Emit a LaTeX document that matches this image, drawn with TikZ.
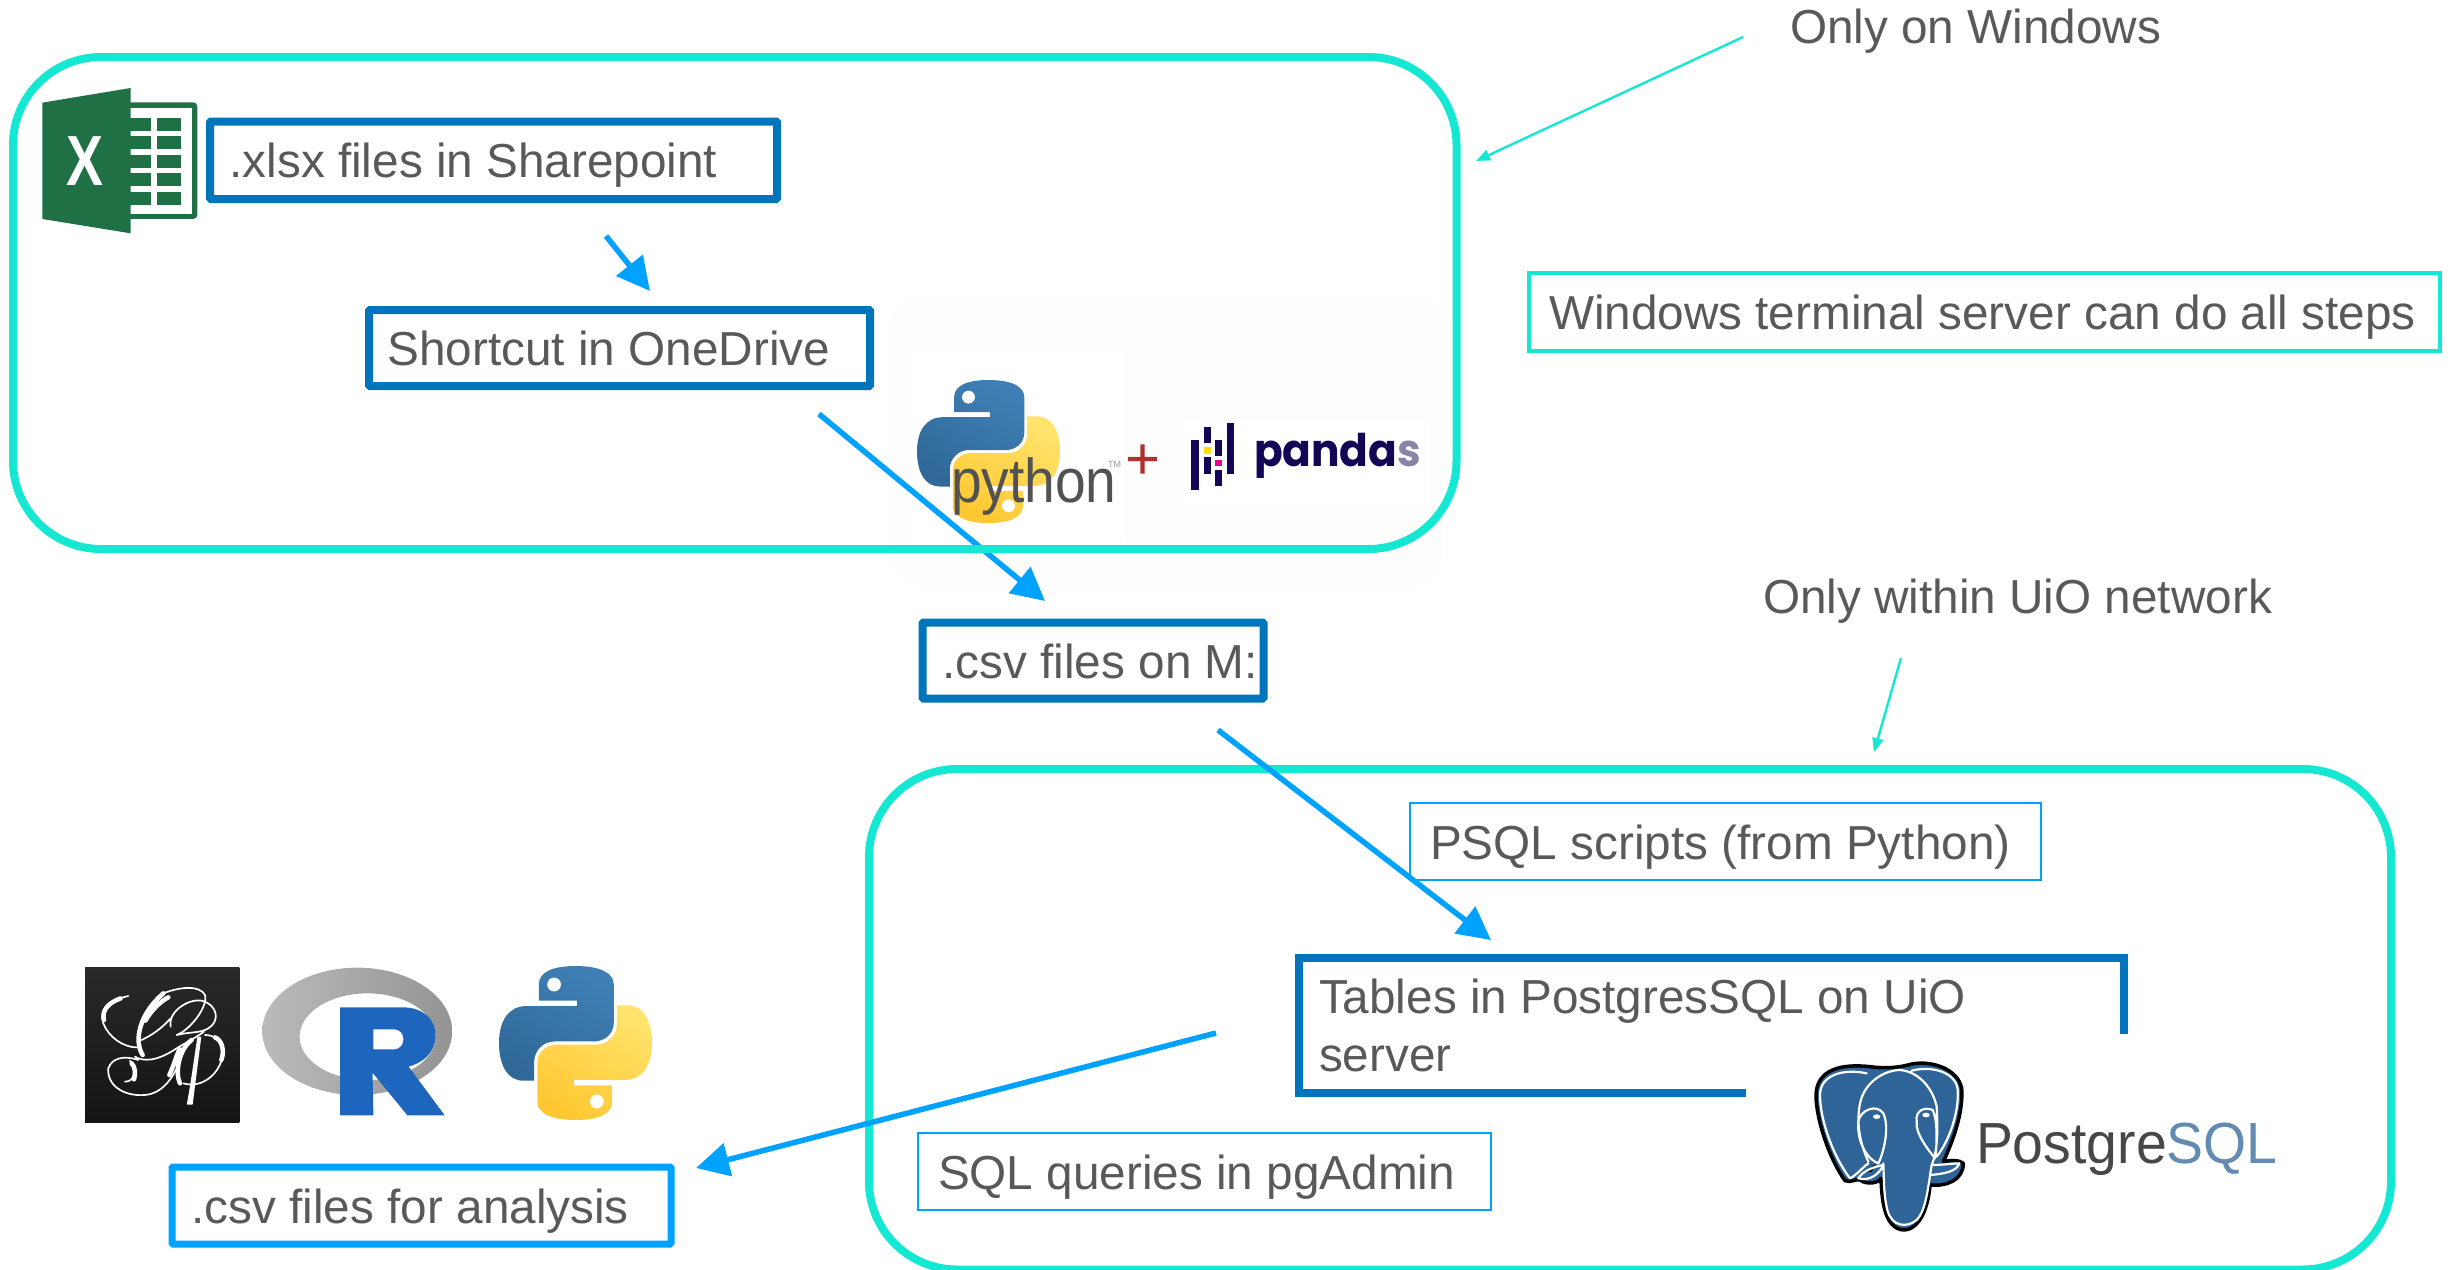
\documentclass[tikz,border=0pt]{standalone}
\usepackage{fontspec}
\usepackage{graphicx}
\setmainfont{Liberation Sans}
\newfontfamily\popfont{Poppins}
\usetikzlibrary{arrows.meta,calc}
\definecolor{tealc}{HTML}{15E8D2}
\definecolor{darkb}{HTML}{0075BC}
\definecolor{lightb}{HTML}{00A2FF}
\definecolor{txtc}{HTML}{595959}
\definecolor{xlgreen}{HTML}{1F7045}
\definecolor{pydark}{HTML}{130654}
\definecolor{pgblue}{HTML}{2F6499}
\definecolor{faint}{HTML}{FDFDFD}
% Python two-snake mark in a 100x100 box
\newcommand{\snakepath}{(26,22.5) -- (51,22.5) -- (51,26) -- (18,26) .. controls (6,26) and (0,36) .. (0,50) .. controls (0,65) and (6,74.5) .. (16,74.5) -- (23,74.5) -- (23,62) .. controls (23,55) and (29,49) .. (36,49) -- (62,49) .. controls (69,49) and (75,44) .. (75,37) -- (75,12) .. controls (75,5) and (67,0) .. (50,0) .. controls (35,0) and (26,4) .. (26,12) -- cycle}
\newcommand{\pymark}[4]{%
\begin{scope}[shift={(#1,#2)},x=#3pt,y=-#4pt]
\shade[top color=pyblueA,bottom color=pyblueB,shading angle=-30] \snakepath;
\fill[white] (36,12) circle[x radius=4.5,y radius=4.5];
\begin{scope}[shift={(100,100)},x=-#3pt,y=#4pt]
\shade[top color=pyyelA,bottom color=pyyelB,shading angle=-30] \snakepath;
\fill[white] (36,12) circle[x radius=4.5,y radius=4.5];
\end{scope}
\end{scope}}
\definecolor{pyblueA}{HTML}{3F7FB5}
\definecolor{pyblueB}{HTML}{306998}
\definecolor{pyyelA}{HTML}{FFE36B}
\definecolor{pyyelB}{HTML}{FFC832}
\tikzset{
 every node/.style={font=\fontsize{47.7}{58}\selectfont,text=txtc,outer sep=0pt},
 labelbox/.style n args={3}{minimum width=#1,minimum height=#2,inner sep=0pt,text width=#1,align=left,text height=45,text depth=10,execute at begin node={\spaceskip=0pt\xspaceskip=0pt\hspace*{#3pt}}},
 thickbox/.style={draw=darkb,line width=8,fill=white,rounded corners=1},
 lightbox/.style={draw=lightb,line width=7,fill=white,rounded corners=1},
 thinbox/.style={draw=lightb,line width=2.2},
 termbox/.style={draw=tealc,line width=4.5},
 region/.style={draw=tealc,line width=8,rounded corners=88},
 flow/.style={draw=lightb,line width=5.5,-{Triangle[length=33,width=33]}},
 note/.style={draw=tealc,line width=2.4,-{Triangle[length=14,width=11]}},
 plain/.style={anchor=base west,inner sep=0pt},
 thinstroke/.style={white,line width=1.7,line cap=round},
 thickstroke/.style={white,line width=4.5,line cap=round},
 pgline/.style={white,line width=2.2,line cap=round,line join=round},
}
\begin{document}
\begin{tikzpicture}[x=1pt,y=-1pt]
\useasboundingbox (0,0) rectangle (2451,1269);
% faint backing of the pasted logos
\fill[fill=faint,rounded corners=30] (891,297) rectangle (1442,586);
\fill[white] (910,350) rectangle (1125,543);
\fill[white] (1180,420) rectangle (1430,506);
% free ends of connectors
\coordinate (a1s) at (606,236); \coordinate (a1e) at (650,291);
\coordinate (a2s) at (819,414); \coordinate (a2e) at (1045,601);
\coordinate (a3s) at (1218,730); \coordinate (a3e) at (1491,940);
\coordinate (a4s) at (1216,1033); \coordinate (a4e) at (696,1168);
\coordinate (n1s) at (1743,37); \coordinate (n1e) at (1476,161);
\coordinate (n2s) at (1901,658); \coordinate (n2e) at (1874,752);
% python + pandas
\pymark{917}{380}{1.43}{1.43}
\node[plain,text=black!68] (pyword) at (951,502) {\fontsize{62}{62}\selectfont\scalebox{0.89}[1]{python}};
\node[plain,text=black!40] (pytm) at (1108,467) {\fontsize{9}{9}\selectfont TM};
\node[inner sep=0pt,text={rgb,255:red,176;green,48;blue,48}] (plus) at (1143,462) {\fontsize{60}{60}\selectfont +};
\begin{scope}[fill=pydark]
\fill (1191,439.5) rectangle (1199,490);
\fill (1203.5,427) rectangle (1210.5,443);
\fill (1203.5,457) rectangle (1210.5,473.5);
\fill (1215,440) rectangle (1222,456);
\fill (1215,470) rectangle (1222,486);
\fill (1226.5,423) rectangle (1234,473.5);
\end{scope}
\fill[yellow!80!orange] (1203.5,446.5) rectangle (1210.5,453.5);
\fill[magenta] (1215,459.5) rectangle (1222,466);
\node[plain,text=pydark] (pandas) at (1254,466) {\popfont\fontsize{45}{45}\selectfont\scalebox{0.94}[1]{\textbf{panda}\textcolor{pydark!50}{\textbf{s}}}};
% connectors under the frames
\draw[flow] (a2s) -- (a2e);
% frames
\draw[region] (13,57) rectangle (1456.5,549);
\draw[region] (869,769) rectangle (2391,1269.5);
\draw[flow] (a1s) -- (a1e);
\draw[flow] (a3s) -- (a3e);
\draw[flow] (a4s) -- (a4e);
\draw[note] (n1s) -- (n1e);
\draw[note] (n2s) -- (n2e);
% boxes
\node[thickbox,labelbox={567}{77.5}{19.5}] (xlsx) at (493.5,160.25) {.xlsx files in Sharepoint};
\node[thickbox,labelbox={501}{76}{18.5}] (onedrive) at (619.5,348) {Shortcut in OneDrive};
\node[thickbox,labelbox={341}{76}{20}] (csvm) at (1093,660.5) {.csv files on M:};
\node[lightbox,labelbox={499}{77}{19.5}] (csvan) at (421.5,1205.5) {.csv files for analysis};
\node[termbox,labelbox={911}{78}{20}] (term) at (1984.5,312) {Windows terminal server can do all steps};
\node[thinbox,labelbox={631}{77}{20}] (psql) at (1725.5,841.5) {PSQL scripts (from Python)};
\node[thinbox,labelbox={573}{77}{20}] (sqlq) at (1204.5,1171.5) {SQL queries in pgAdmin};
\node[minimum width=825,minimum height=135,inner xsep=20,inner ysep=0,text width=785,align=left] (tables) at (1711.5,1025.5) {\spaceskip=0pt\xspaceskip=0pt Tables in PostgresSQL on UiO\\server};
\draw[draw=darkb,line width=8] ($(tables.south west)+(447,0)$) -- (tables.south west) -- (tables.north west) -- (tables.north east) -- ($(tables.north east)+(0,75.5)$);
\node[plain] (onlywin) at (1790,43) {Only on Windows};
\node[plain] (onlyuio) at (1763,613) {Only within UiO network};
% Excel mark
\begin{scope}[shift={(35,80)},x=0.3333pt,y=-0.3333pt]
\fill[xlgreen,rounded corners=4] (200,67) rectangle (487,417);
\fill[white] (200,83) rectangle (472,403);
\foreach \ya/\yb in {113/152,168/207,224/263,280/319,335/375}{
 \fill[xlgreen] (280,\ya) rectangle (348,\yb);
 \fill[xlgreen] (365,\ya) rectangle (438,\yb);}
\fill[xlgreen] (22,68) -- (287,24) -- (287,460) -- (22,417) -- cycle;
\end{scope}
\node[inner sep=0pt,text=white] (xmark) at (85,161.5) {\fontsize{71}{71}\selectfont\bfseries\scalebox{0.78}[1]{X}};
% Phi mark
\begin{scope}[shift={(80,960)},x=0.3333pt,y=-0.3333pt]
\shade[top color=black!84,bottom color=black!92] (15,22) rectangle (478,487);
\draw[thinstroke]
 (145,108) .. controls (90,120) and (55,150) .. (70,190) .. controls (85,230) and (130,265) .. (178,262)
 (250,100) .. controls (300,80) and (360,75) .. (375,105) .. controls (385,140) and (330,210) .. (290,225)
 (272,200) .. controls (262,160) and (320,115) .. (365,122) .. controls (415,135) and (420,185) .. (385,205) .. controls (360,220) and (330,215) .. (290,225)
 (272,175) .. controls (240,210) and (215,225) .. (185,240)
 (165,290) .. controls (190,305) and (230,305) .. (290,265) .. controls (310,252) and (345,235) .. (372,215)
 (175,300) .. controls (130,285) and (95,295) .. (85,325) .. controls (80,375) and (130,410) .. (195,405) .. controls (250,400) and (280,350) .. (300,305)
 (135,365) .. controls (165,365) and (170,330) .. (150,302)
 (375,225) .. controls (420,225) and (438,265) .. (425,300) .. controls (410,350) and (360,385) .. (310,370);
\draw[thickstroke] (122,115) .. controls (80,130) and (65,155) .. (72,180);
\draw[thickstroke] (188,285) .. controls (160,240) and (180,160) .. (250,100);
\draw[thickstroke] (196,182) .. controls (215,150) and (240,125) .. (265,112);
\draw[thickstroke] (162,358) .. controls (168,340) and (165,320) .. (155,310);
\draw[thickstroke] (268,345) .. controls (285,310) and (290,280) .. (300,268);
\draw[thickstroke] (300,370) .. controls (285,340) and (295,270) .. (335,240);
\draw[thickstroke] (424,300) .. controls (435,270) and (425,240) .. (405,232);
\draw[white,line width=1] (360,230) -- (322,433);
\fill[white] (364,230) -- (352,232) -- (322,434) -- (338,434) -- cycle;
\end{scope}
% R mark
\begin{scope}[shift={(50,930)},x=0.4146pt,y=-0.3333pt]
\shade[even odd rule,left color=black!27,right color=black!42] (741,304) circle[x radius=229,y radius=191] (766,320) circle[x radius=164,y radius=130];
\fill[fill={rgb,255:red,30;green,101;blue,190},even odd rule]
 (700,232) -- (850,232) .. controls (905,232) and (932,275) .. (930,320) .. controls (928,365) and (905,395) .. (865,410) -- (952,556) -- (862,556) -- (778,428) -- (780,556) -- (700,556) -- cycle
 (780,298) -- (780,358) -- (830,358) .. controls (860,358) and (860,298) .. (830,298) -- cycle;
\end{scope}
\pymark{499}{966}{1.53}{1.54}
% Elephant
\begin{scope}[shift={(1800,1050)},x=0.3333pt,y=-0.3333pt]
\fill[pgblue,draw=black,line width=3.5,line join=round] (210,50) .. controls (120,40) and (50,60) .. (48,135) .. controls (48,210) and (90,330) .. (135,392) .. controls (150,400) and (170,385) .. (180,390) .. controls (200,405) and (235,400) .. (243,385) .. controls (245,440) and (250,535) .. (310,540) .. controls (360,540) and (385,470) .. (390,405) .. controls (440,410) and (490,390) .. (490,340) .. controls (480,330) and (450,330) .. (430,335) .. controls (465,260) and (490,180) .. (485,115) .. controls (475,60) and (400,30) .. (335,42) .. controls (290,55) and (250,55) .. (210,50) -- cycle;
\fill[black] (190,365) -- (228,342) -- (215,365) -- cycle;
\draw[pgline]
 (200,70) .. controls (130,55) and (60,75) .. (60,135) .. controls (60,210) and (100,320) .. (150,385) .. controls (170,375) and (190,350) .. (205,340)
 (250,340) .. controls (252,380) and (250,430) .. (262,480) .. controls (275,530) and (320,535) .. (350,510) .. controls (380,480) and (385,400) .. (395,345) .. controls (410,310) and (415,260) .. (410,170) .. controls (400,120) and (360,65) .. (300,60) .. controls (260,60) and (195,90) .. (180,160) .. controls (170,210) and (175,270) .. (205,335)
 (175,215) .. controls (180,180) and (230,160) .. (250,190) .. controls (270,235) and (250,310) .. (235,340) .. controls (205,330) and (170,280) .. (175,215)
 (350,215) .. controls (345,180) and (375,170) .. (398,180) .. controls (415,215) and (410,300) .. (405,325) .. controls (385,300) and (345,250) .. (350,215)
 (335,62) .. controls (400,45) and (470,70) .. (473,120) .. controls (478,180) and (450,270) .. (410,320)
 (395,345) .. controls (430,345) and (460,340) .. (478,340) .. controls (470,365) and (430,372) .. (390,375)
 (250,345) .. controls (240,370) and (210,395) .. (175,385) .. controls (190,360) and (225,350) .. (250,345);
\fill[white] (230,200) circle[x radius=11,y radius=7];
\fill[white] (378,195) circle[x radius=11,y radius=7];
\end{scope}
\node[plain] (pgword) at (1976,1163) {\fontsize{58}{58}\selectfont\scalebox{0.955}[1]{\textcolor{black!72}{Postgre}\textcolor{pgblue!75}{SQL}}};
\end{tikzpicture}
\end{document}
